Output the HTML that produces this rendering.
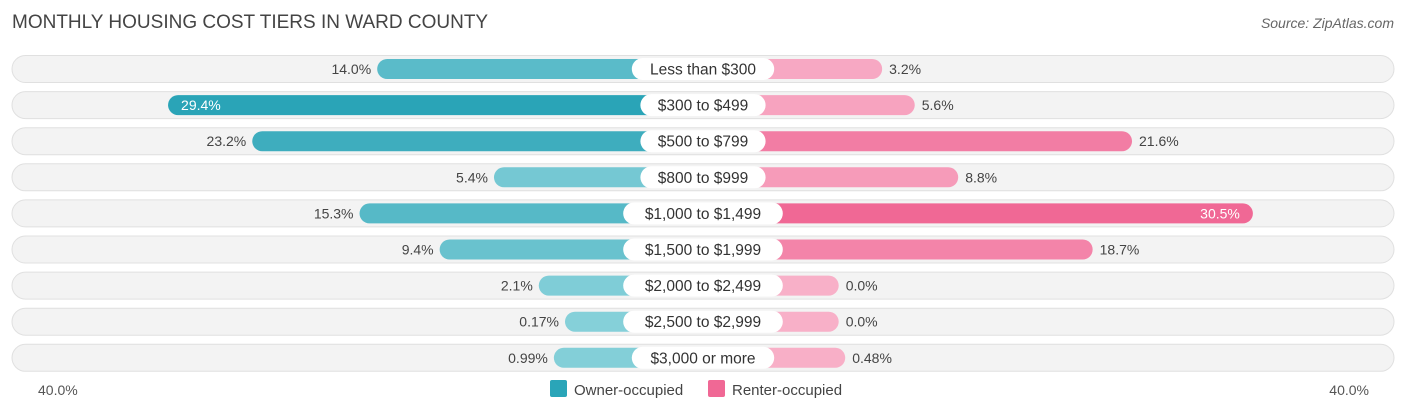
<!DOCTYPE html>
<html><head><meta charset="utf-8"><style>
body{margin:0;background:#fff;font-family:"Liberation Sans",Arial,sans-serif;}
svg text{font-family:"Liberation Sans",Arial,sans-serif;}
</style></head><body>
<svg id="chart" width="1406" height="414" viewBox="0 0 1406 414">
<text x="12" y="28" font-size="19" fill="#444">MONTHLY HOUSING COST TIERS IN WARD COUNTY</text>
<text x="1394" y="28" font-size="14" fill="#666" font-style="italic" text-anchor="end">Source: ZipAtlas.com</text>
<g id="rows"></g>
<text x="38" y="395" font-size="14" fill="#555">40.0%</text>
<text x="1369" y="395" font-size="14" fill="#555" text-anchor="end">40.0%</text>
<g>
<rect x="550" y="380" width="17" height="17" rx="2" fill="#2aa5b8"/>
<text x="574" y="395" font-size="15" fill="#444">Owner-occupied</text>
<rect x="708" y="380" width="17" height="17" rx="2" fill="#f06895"/>
<text x="732" y="395" font-size="15" fill="#444">Renter-occupied</text>
</g>
</svg>
<script>
const categories=["Less than $300","$300 to $499","$500 to $799","$800 to $999","$1,000 to $1,499","$1,500 to $1,999","$2,000 to $2,499","$2,500 to $2,999","$3,000 or more"];
const ownerValues=[14.0,29.4,23.2,5.4,15.3,9.4,2.1,0.17,0.99];
const renterValues=[3.2,5.6,21.6,8.8,30.5,18.7,0.0,0.0,0.48];
const ownerLabels=["14.0%","29.4%","23.2%","5.4%","15.3%","9.4%","2.1%","0.17%","0.99%"];
const renterLabels=["3.2%","5.6%","21.6%","8.8%","30.5%","18.7%","0.0%","0.0%","0.48%"];
const NS="http://www.w3.org/2000/svg";
const cx=703, base=135.7, k=13.58, y0=69, dy=36.1, bh=20;
const w=v=>base+k*v;
const maxV=Math.max(...ownerValues,...renterValues);
function mix(a,b,t){const p=s=>[1,3,5].map(i=>parseInt(s.substr(i,2),16));const A=p(a),B=p(b);return "rgb("+A.map((x,i)=>Math.round(x+(B[i]-x)*t)).join(",")+")";}
const g=document.getElementById("rows");
function mk(tag,attrs,parent){const e=document.createElementNS(NS,tag);for(const a in attrs)e.setAttribute(a,attrs[a]);parent.appendChild(e);return e;}
categories.forEach((c,i)=>{
  const y=y0+i*dy;
  const row=mk("g",{},g);
  
  
  const bg=mk("rect",{x:12,y:y-13.5,width:1382,height:27,rx:13.5,fill:"#f3f3f3",stroke:"#e0e0e0","stroke-width":1},row);
  
  
  const ov=ownerValues[i], rv=renterValues[i];
  const ow=w(ov), rw=w(rv);
  const ob=mk("rect",{x:cx-ow,y:y-bh/2,width:ow,height:bh,rx:10,fill:mix("#86d0d9","#27a2b6",ov/maxV)},row);
  
  
  const rb=mk("rect",{x:cx,y:y-bh/2,width:rw,height:bh,rx:10,fill:mix("#f8b0c8","#f06895",rv/maxV)},row);
  
  
  const lw=c.length*8.6+22;
  const pill=mk("rect",{x:cx-lw/2,y:y-11,width:lw,height:22,rx:11,fill:"#fff"},row);
  
  
  const ct=mk("text",{x:cx,y:y+5.5,"font-size":15.5,fill:"#333","text-anchor":"middle"},row);ct.textContent=c;
  
  
  let ot;
  if(ov>25){ot=mk("text",{x:cx-ow+13,y:y+5,"font-size":14,fill:"#fff"},row);}
  else{ot=mk("text",{x:cx-ow-6,y:y+5,"font-size":14,fill:"#444","text-anchor":"end"},row);}
  ot.textContent=ownerLabels[i];
  
  
  let rt;
  if(rv>25){rt=mk("text",{x:cx+rw-13,y:y+5,"font-size":14,fill:"#fff","text-anchor":"end"},row);}
  else{rt=mk("text",{x:cx+rw+7,y:y+5,"font-size":14,fill:"#444"},row);}
  rt.textContent=renterLabels[i];
  
  
});
</script>
</body></html>
